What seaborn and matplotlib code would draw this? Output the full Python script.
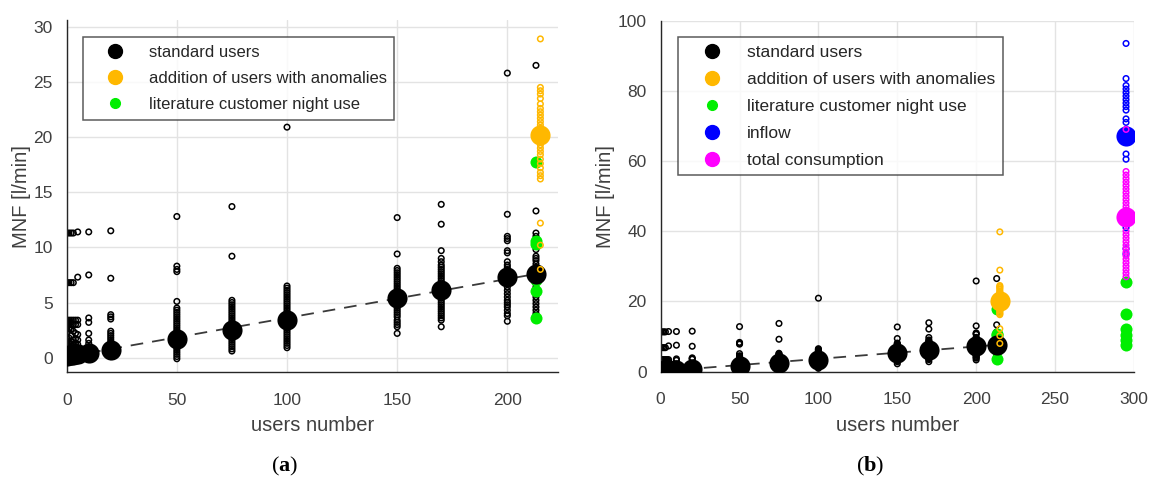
import numpy as np
import pandas as pd
import matplotlib
matplotlib.use("Agg")
import matplotlib.pyplot as plt
from matplotlib.lines import Line2D
import seaborn as sns

# -----------------------------------------------------
# DATA
# -----------------------------------------------------
# standard users: MNF samples per users number
std_users = [0, 1, 2, 3, 4, 5, 10, 20, 50, 75, 100, 150, 170, 200, 213]
std_mnf = [
    [11.3, 6.8, 3.4, 3.0, 2.6, 2.2, 1.8, 1.5, 1.2, 1.0, 0.8, 0.6, 0.4, 0.3, 0.2, 0.1, 0.0],
    [11.3, 6.8, 3.4, 3.0, 2.6, 1.8, 1.4, 1.1, 0.9, 0.7, 0.5, 0.3, 0.1, 0.0],
    [11.3, 6.8, 3.4, 3.0, 2.6, 2.0, 1.5, 1.2, 0.9, 0.6, 0.4, 0.2, 0.0],
    [11.3, 6.8, 3.4, 3.0, 2.4, 1.6, 1.2, 0.9, 0.6, 0.4, 0.2, 0.0],
    [3.4, 3.0, 2.2, 1.7, 1.3, 1.0, 0.7, 0.5, 0.3, 0.1],
    [11.4, 7.3, 3.4, 3.0, 2.1, 1.6, 1.2, 0.9, 0.6, 0.4, 0.2, 0.0],
    [11.4, 7.5, 3.6, 3.2, 2.2, 1.6, 1.3, 1.0, 0.8, 0.6, 0.4, 0.2, 0.0],
    [11.5, 7.2, 3.9, 3.7, 3.5, 2.4, 2.2, 2.0, 1.8, 1.6, 1.4, 1.2, 1.0, 0.8, 0.6, 0.4, 0.2, 0.1],
    [12.8, 8.3, 8.0, 7.8, 5.1, 4.5, 4.3, 4.1, 3.9, 3.7, 3.5, 3.3, 3.1, 2.9, 2.7, 2.5, 2.3,
     2.1, 1.9, 1.7, 1.5, 1.3, 1.1, 0.9, 0.7, 0.5, 0.3, 0.1, -0.1],
    [13.7, 9.2, 5.2, 5.0, 4.8, 4.6, 4.4, 4.2, 4.0, 3.8, 3.6, 3.4, 3.2, 3.0, 2.8, 2.6, 2.4,
     2.2, 2.0, 1.8, 1.6, 1.4, 1.2, 1.0, 0.8, 0.6],
    [20.9, 6.5, 6.3, 6.1, 5.9, 5.7, 5.5, 5.3, 5.1, 4.9, 4.7, 4.5, 4.3, 4.1, 3.9, 3.7, 3.5,
     3.3, 3.1, 2.9, 2.7, 2.5, 2.3, 2.1, 1.9, 1.7, 1.5, 1.3, 1.1, 0.9],
    [12.7, 9.4, 8.1, 7.9, 7.7, 7.5, 7.3, 7.1, 6.9, 6.7, 6.5, 6.3, 6.1, 5.9, 5.7, 5.5, 5.3,
     5.1, 4.9, 4.7, 4.5, 4.3, 4.1, 3.9, 3.7, 3.4, 3.2, 3.0, 2.8, 2.2],
    [13.9, 12.1, 9.7, 9.0, 8.7, 8.4, 8.2, 8.0, 7.8, 7.6, 7.4, 7.2, 7.0, 6.8, 6.6, 6.4, 6.2,
     6.0, 5.8, 5.6, 5.4, 5.2, 5.0, 4.8, 4.6, 4.4, 4.2, 4.0, 3.8, 3.6, 3.4, 2.8],
    [25.8, 13.0, 11.0, 10.8, 10.6, 9.7, 9.5, 8.7, 8.4, 8.2, 8.0, 7.8, 7.6, 7.3, 7.0, 6.7,
     6.4, 6.1, 5.8, 5.5, 5.2, 5.0, 4.8, 4.6, 4.3, 4.0, 3.8, 3.3],
    [26.5, 13.3, 11.3, 11.0, 10.7, 10.4, 10.1, 9.8, 9.2, 9.0, 8.8, 8.5, 8.2, 7.9, 7.6, 7.3,
     7.0, 6.7, 6.4, 6.1, 5.8, 5.5, 5.2, 4.9, 4.6, 4.3, 4.0, 3.8],
]
std_mean = [0.15, 0.2, 0.25, 0.25, 0.3, 0.3, 0.4, 0.7, 1.7, 2.5, 3.4, 5.4, 6.1, 7.3, 7.6]

# addition of users with anomalies
anom_users = 215
anom_mnf = [39.8, 28.9, 24.5, 24.2, 23.9, 23.5, 23.0, 22.6, 22.3, 22.0, 21.7, 21.4, 21.1,
            20.8, 20.5, 20.2, 19.9, 19.6, 19.3, 19.0, 18.7, 18.4, 18.0, 17.6, 17.2, 16.8,
            16.5, 16.2, 12.2, 10.2, 8.0]
anom_mean = 20.2

# literature customer night use
lit_users = [213, 213, 213, 213, 213, 213, 295, 295, 295, 295, 295, 295]
lit_mnf = [17.7, 10.6, 10.3, 7.0, 6.0, 3.6, 25.5, 16.5, 12.0, 10.5, 9.0, 7.5]

# inflow (panel b only)
inflow_users = 295
inflow_mnf = [93.5, 83.5, 81.5, 80.5, 79.5, 78.5, 77.5, 76.5, 75.5, 74.5, 72.0, 71.0,
              69.0, 62.0, 60.5, 41.0, 35.0, 33.5]
inflow_mean = 67.0

# total consumption (panel b only)
total_users = 295
total_mnf = [69.0, 57.0, 56.0, 55.0, 54.0, 53.0, 52.0, 51.0, 50.0, 49.0, 48.0, 47.0,
             46.0, 45.0, 43.0, 42.0, 40.0, 39.0, 38.0, 37.0, 36.0, 35.0, 34.0, 33.0,
             32.0, 31.0, 30.0, 29.0, 28.0, 27.0]
total_mean = 44.0

# -----------------------------------------------------
# TABLES
# -----------------------------------------------------
std_df = pd.DataFrame(
    [(u, v) for u, vals in zip(std_users, std_mnf) for v in vals],
    columns=["users", "mnf"],
)
std_mean_df = pd.DataFrame({"users": std_users, "mnf": std_mean})
anom_df = pd.DataFrame({"users": anom_users, "mnf": anom_mnf})
lit_df = pd.DataFrame({"users": lit_users, "mnf": lit_mnf})
inflow_df = pd.DataFrame({"users": inflow_users, "mnf": inflow_mnf})
total_df = pd.DataFrame({"users": total_users, "mnf": total_mnf})

# linear trend through the standard-user means
fit = np.polyfit(std_users, std_mean, 1)
trend_x = np.array([0, std_users[-1]])
trend_y = np.polyval(fit, trend_x)

# -----------------------------------------------------
# STYLE
# -----------------------------------------------------
sns.set_theme(style="white")
plt.rcParams["font.family"] = ["Liberation Sans", "DejaVu Sans"]
plt.rcParams["mathtext.fontset"] = "custom"
plt.rcParams["mathtext.bf"] = "Liberation Serif:bold"
plt.rcParams["mathtext.rm"] = "Liberation Serif"

BLACK = "#000000"
ORANGE = "#ffb800"
GREEN = "#00ee00"
BLUE = "#0000ff"
MAGENTA = "#ff00ff"
TXT = "#404040"

SMALL = dict(marker="o", s=16, linewidth=1.1, legend=False)
BIG = dict(marker="o", s=210, linewidth=0, legend=False)

fig = plt.figure(figsize=(11.56, 4.8), dpi=100)
ax_a = fig.add_axes([0.0577, 0.225, 0.425, 0.733])
ax_b = fig.add_axes([0.5715, 0.226, 0.4094, 0.731])


def draw_common(ax):
    sns.scatterplot(data=std_df, x="users", y="mnf", color=BLACK, facecolor="none",
                    edgecolor=BLACK, ax=ax, zorder=2, **SMALL)
    sns.scatterplot(data=lit_df, x="users", y="mnf", color=GREEN, s=75, linewidth=0,
                    legend=False, ax=ax, zorder=3)
    sns.lineplot(x=trend_x, y=trend_y, color="#3a3a3a", linewidth=1.3,
                 dashes=False, linestyle=(0, (7, 5)), ax=ax, zorder=3.5)
    sns.scatterplot(data=std_mean_df, x="users", y="mnf", color=BLACK, ax=ax,
                    zorder=4, **BIG)
    sns.scatterplot(data=anom_df, x="users", y="mnf", color=ORANGE, facecolor="none",
                    edgecolor=ORANGE, ax=ax, zorder=5, **SMALL)
    sns.scatterplot(x=[anom_users], y=[anom_mean], color=ORANGE, ax=ax, zorder=6, **BIG)


def style_axes(ax, xlim, ylim, xticks, yticks):
    ax.set_xlim(*xlim)
    ax.set_ylim(*ylim)
    ax.set_xticks(xticks)
    ax.set_yticks(yticks)
    ax.grid(True, color="#e3e3e3", linewidth=1.0)
    ax.set_axisbelow(True)
    for side in ["top", "right"]:
        ax.spines[side].set_visible(False)
    for side in ["left", "bottom"]:
        ax.spines[side].set_color("#262626")
        ax.spines[side].set_linewidth(1.0)
    ax.tick_params(axis="both", direction="in", length=4, width=0.8,
                   colors="#262626", labelcolor=TXT, labelsize=12.5)
    ax.tick_params(axis="x", pad=15)
    ax.tick_params(axis="y", pad=10)
    ax.set_xlabel("users number", fontsize=14.5, color=TXT, labelpad=6)
    ax.set_ylabel("MNF [l/min]", fontsize=14.5, color=TXT, labelpad=2)


def legend_handles(items):
    return [
        Line2D([], [], linestyle="none", marker="o", markersize=ms,
               markerfacecolor=c, markeredgecolor=c, label=lab)
        for lab, c, ms in items
    ]


def add_legend(ax, items, anchor, size):
    leg = ax.legend(handles=legend_handles(items), loc="upper left",
                    bbox_to_anchor=anchor, borderaxespad=0, fontsize=size,
                    frameon=True, fancybox=False, handlelength=3.0,
                    handletextpad=0.5, borderpad=0.45, labelspacing=0.68)
    leg.get_frame().set_edgecolor("#333333")
    leg.get_frame().set_linewidth(1.1)
    for t in leg.get_texts():
        t.set_color("#262626")


# -----------------------------------------------------
# PANEL (a)
# -----------------------------------------------------
draw_common(ax_a)
style_axes(ax_a, (0, 223), (-1.3, 30.6), range(0, 201, 50), range(0, 31, 5))

items_a = [
    ("standard users", BLACK, 10),
    ("addition of users with anomalies", ORANGE, 10),
    ("literature customer night use", GREEN, 7),
]
add_legend(ax_a, items_a, (0.033, 0.952), 12)

# -----------------------------------------------------
# PANEL (b)
# -----------------------------------------------------
draw_common(ax_b)
sns.scatterplot(data=inflow_df, x="users", y="mnf", color=BLUE, facecolor="none",
                edgecolor=BLUE, ax=ax_b, zorder=5, **SMALL)
sns.scatterplot(x=[inflow_users], y=[inflow_mean], color=BLUE, ax=ax_b, zorder=6, **BIG)
sns.scatterplot(data=total_df, x="users", y="mnf", color=MAGENTA, facecolor="none",
                edgecolor=MAGENTA, ax=ax_b, zorder=7, **SMALL)
sns.scatterplot(x=[total_users], y=[total_mean], color=MAGENTA, ax=ax_b, zorder=8, **BIG)
style_axes(ax_b, (0, 300), (0, 100), range(0, 301, 50), range(0, 101, 20))

items_b = items_a + [
    ("inflow", BLUE, 10),
    ("total consumption", MAGENTA, 10),
]
add_legend(ax_b, items_b, (0.037, 0.954), 12.5)

# panel letters
fig.text(285 / 1156, 1 - 466 / 480, r"($\mathbf{a}$)", ha="center", va="center",
         fontsize=16, family="Liberation Serif", color="black")
fig.text(870 / 1156, 1 - 466 / 480, r"($\mathbf{b}$)", ha="center", va="center",
         fontsize=16, family="Liberation Serif", color="black")

fig.savefig("out.png", dpi=100)
